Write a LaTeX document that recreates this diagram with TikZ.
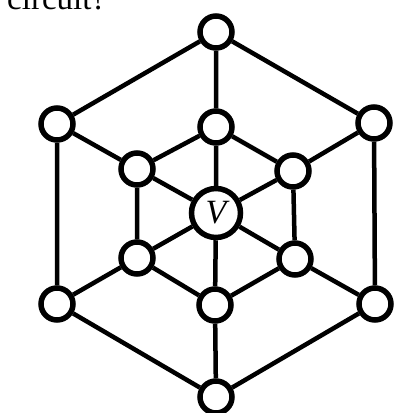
\documentclass[tikz,border=0pt]{standalone}
\usepackage{fontspec}
\setmainfont{Liberation Serif}
\begin{document}
\begin{tikzpicture}[x=1pt,y=-1pt,
  vtx/.style={circle,draw,line width=5.5pt,fill=white,minimum size=32pt,inner sep=0pt},
  ctr/.style={circle,draw,line width=5.5pt,fill=white,minimum size=49pt,inner sep=0pt,font=\fontsize{34}{34}\selectfont\itshape},
  edge/.style={line width=4.5pt}]
\useasboundingbox (0,0) rectangle (412,413);
\node[anchor=base west,inner sep=0pt,font=\fontsize{33}{33}\selectfont] (t) at (7,9) {circuit?};
% outer hexagon
\node[vtx] (top) at (216,32) {};
\node[vtx] (oul) at (57,124) {};
\node[vtx] (our) at (374,123) {};
\node[vtx] (oll) at (57,304) {};
\node[vtx] (olr) at (375,304) {};
\node[vtx] (bot) at (216,397) {};
% inner hexagon
\node[vtx] (it) at (216,127) {};
\node[vtx] (iul) at (137,169) {};
\node[vtx] (iur) at (293,171) {};
\node[vtx] (ill) at (137,258) {};
\node[vtx] (ilr) at (295,259) {};
\node[vtx] (ib) at (215,305) {};
\node[ctr] (v) at (216,213) {V};
\draw[edge] (top) -- (oul) (top) -- (our) (top) -- (it)
  (oul) -- (oll) (oul) -- (iul)
  (our) -- (olr) (our) -- (iur)
  (oll) -- (bot) (oll) -- (ill)
  (olr) -- (bot) (olr) -- (ilr)
  (bot) -- (ib)
  (it) -- (iul) (it) -- (iur) (it) -- (v)
  (iul) -- (ill) (iul) -- (v)
  (iur) -- (ilr) (iur) -- (v)
  (ill) -- (ib) (ill) -- (v)
  (ilr) -- (ib) (ilr) -- (v)
  (ib) -- (v);
\end{tikzpicture}
\end{document}
